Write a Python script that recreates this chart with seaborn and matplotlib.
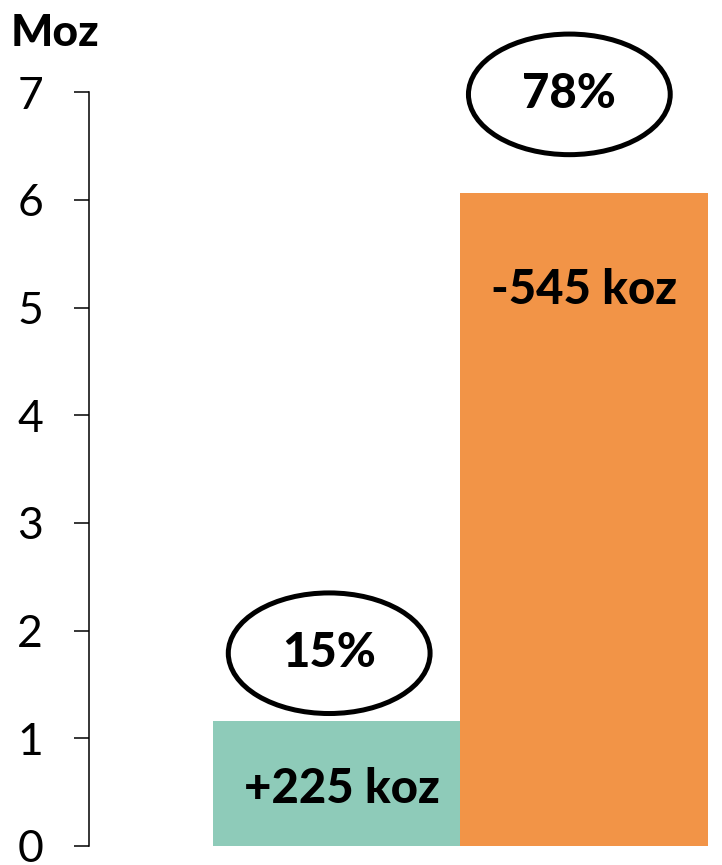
import matplotlib
matplotlib.use("Agg")
import matplotlib.pyplot as plt
from matplotlib.patches import Ellipse
import pandas as pd
import seaborn as sns

# data
categories = ["Added", "Depleted"]
values = [1.16, 6.06]
change_labels = ["+225 koz", "-545 koz"]
share_labels = ["15%", "78%"]
colors = ["#8ECBB9", "#F29447"]

df = pd.DataFrame({"category": categories, "value": values})

sns.set_theme(style="white")
plt.rcParams["font.family"] = ["Lato", "DejaVu Sans"]

fig = plt.figure(figsize=(7.22, 8.65), dpi=100)
ax = fig.add_axes([0.1233, 0.022, 0.8573, 0.8714])

sns.barplot(data=df, x="category", y="value", hue="category", palette=colors,
            width=1.0, saturation=1, legend=False, linewidth=0, ax=ax)

ax.set_xlim(-1.0, 1.5)
ax.set_ylim(0, 7)
ax.set_yticks(range(0, 8))
ax.set_xticks([])
ax.set_xlabel("")
ax.set_ylabel("")

for side in ["top", "right", "bottom"]:
    ax.spines[side].set_visible(False)
ax.spines["left"].set_linewidth(1.1)
ax.spines["left"].set_color("#000000")
ax.tick_params(axis="y", which="major", left=True, length=11, width=1.1,
               color="#000000", pad=22, labelsize=32, labelcolor="#000000")

# value change labels inside bars
label_y = [0.53, 5.16]
for i, (txt, y) in enumerate(zip(change_labels, label_y)):
    ax.text(i + 0.02 * (i == 0), y, txt, ha="center", va="center",
            fontsize=34, fontweight=900, color="#000000")

# share ellipses above bars
ell_y = [1.79, 6.98]
ell_x = [-0.03, 0.94]
for i, txt in enumerate(share_labels):
    e = Ellipse((ell_x[i], ell_y[i]), width=0.815, height=1.12,
                fill=False, edgecolor="#000000", linewidth=3.6, clip_on=False)
    ax.add_patch(e)
    ax.text(ell_x[i], ell_y[i], txt, ha="center", va="center",
            fontsize=34, fontweight=900, color="#000000", clip_on=False)

fig.text(55 / 722, 1 - 33 / 865, "Moz", ha="center", va="center",
         fontsize=32, fontweight=900, color="#000000")

fig.savefig("out.png", dpi=100)
